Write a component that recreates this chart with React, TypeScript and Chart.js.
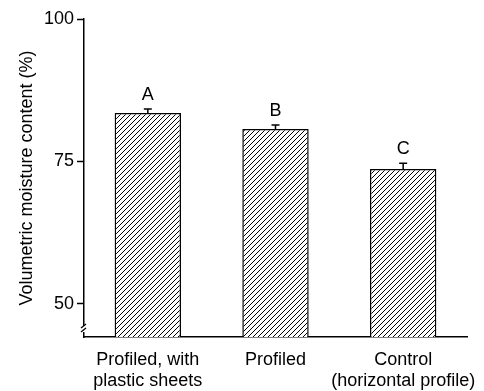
import React, { useEffect, useRef } from "react";
import { Chart, registerables } from "chart.js";

Chart.register(...registerables);

const categories: string[][] = [
  ["Profiled, with", "plastic sheets"],
  ["Profiled"],
  ["Control", "(horizontal profile)"],
];
const means: number[] = [83.5, 80.7, 73.7];
const errors: number[] = [0.7, 0.7, 1.0];
const letters: string[] = ["A", "B", "C"];
const yTicks: number[] = [50, 75, 100];
const yMin = 44.2;
const yMax = 100;

const FONT = "Arial, 'Liberation Sans', Helvetica, sans-serif";

function makeHatch(): CanvasPattern | string {
  const s = 5;
  const c = document.createElement("canvas");
  c.width = s;
  c.height = s;
  const ctx = c.getContext("2d");
  if (!ctx) return "#fff";
  ctx.fillStyle = "#fff";
  ctx.fillRect(0, 0, s, s);
  ctx.strokeStyle = "#000";
  ctx.lineWidth = 1;
  ctx.beginPath();
  ctx.moveTo(-1, s + 1);
  ctx.lineTo(s + 1, -1);
  ctx.moveTo(-1, 1);
  ctx.lineTo(1, -1);
  ctx.moveTo(s - 1, s + 1);
  ctx.lineTo(s + 1, s - 1);
  ctx.stroke();
  const p = ctx.createPattern(c, "repeat");
  return p || "#fff";
}

const annotPlugin = {
  id: "annot",
  afterDatasetsDraw(chart: any) {
    const ctx = chart.ctx;
    const x = chart.scales.x;
    const y = chart.scales.y;
    const meta = chart.getDatasetMeta(0);
    ctx.save();
    ctx.strokeStyle = "#000";
    ctx.fillStyle = "#000";
    ctx.lineWidth = 1.5;
    means.forEach((m, i) => {
      const px = meta.data[i].x;
      const top = y.getPixelForValue(m);
      const et = y.getPixelForValue(m + errors[i]);
      ctx.beginPath();
      ctx.moveTo(px, top);
      ctx.lineTo(px, et);
      ctx.moveTo(px - 4, et);
      ctx.lineTo(px + 4, et);
      ctx.stroke();
      ctx.font = `18px ${FONT}`;
      ctx.textAlign = "center";
      ctx.textBaseline = "alphabetic";
      ctx.fillText(letters[i], px, et - 9);
    });
    // axis break marks
    const ax = x.left;
    const by = y.bottom - 8;
    ctx.fillStyle = "#fff";
    ctx.fillRect(ax - 3, by - 3, 6, 6);
    ctx.lineWidth = 1.3;
    ctx.beginPath();
    ctx.moveTo(ax - 3, by - 1);
    ctx.lineTo(ax + 2, by - 5);
    ctx.moveTo(ax - 3, by + 3);
    ctx.lineTo(ax + 2, by - 1);
    ctx.stroke();
    ctx.restore();
  },
};

export default function App() {
  const ref = useRef<HTMLCanvasElement>(null);
  useEffect(() => {
    if (!ref.current) return;
    const chart = new Chart(ref.current, {
      type: "bar",
      data: {
        labels: categories,
        datasets: [
          {
            data: means,
            backgroundColor: makeHatch() as any,
            borderColor: "#000",
            borderWidth: 1.5,
            borderSkipped: "bottom",
            barPercentage: 0.52,
            categoryPercentage: 1,
          },
        ],
      },
      options: {
        animation: false,
        responsive: false,
        maintainAspectRatio: false,
        layout: { padding: { left: 0, right: 17, top: 19, bottom: 0 } },
        plugins: {
          legend: { display: false },
          tooltip: { enabled: false },
          title: { display: false },
        },
        scales: {
          x: {
            grid: { display: false, drawTicks: false },
            border: { color: "#000", width: 1.5 },
            ticks: {
              color: "#000",
              font: { family: FONT, size: 18, lineHeight: 1.2 },
              padding: 12,
              maxRotation: 0,
              autoSkip: false,
            },
            afterFit(scale: any) {
              scale.height = 54;
              scale.paddingLeft = 0;
              scale.paddingRight = 0;
            },
          },
          y: {
            min: yMin,
            max: yMax,
            afterBuildTicks(scale: any) {
              scale.ticks = yTicks.map((v) => ({ value: v }));
            },
            grid: {
              drawOnChartArea: false,
              drawTicks: true,
              tickLength: 7,
              color: "#000",
              tickWidth: 1.5,
            },
            border: { color: "#000", width: 1.5 },
            ticks: {
              color: "#000",
              font: { family: FONT, size: 18 },
              padding: 3,
            },
            title: {
              display: true,
              text: "Volumetric moisture content (%)",
              color: "#000",
              font: { family: FONT, size: 18 },
              padding: { top: 16, bottom: 0 },
            },
            afterFit(scale: any) {
              scale.width = 84;
              scale.paddingTop = 0;
              scale.paddingBottom = 0;
            },
          },
        },
      },
      plugins: [annotPlugin],
    });
    return () => chart.destroy();
  }, []);
  return (
    <div style={{ position: "absolute", left: 0, top: 0, width: 484, height: 391, background: "#fff" }}>
      <canvas ref={ref} width={484} height={391} style={{ width: 484, height: 391 }} />
    </div>
  );
}
